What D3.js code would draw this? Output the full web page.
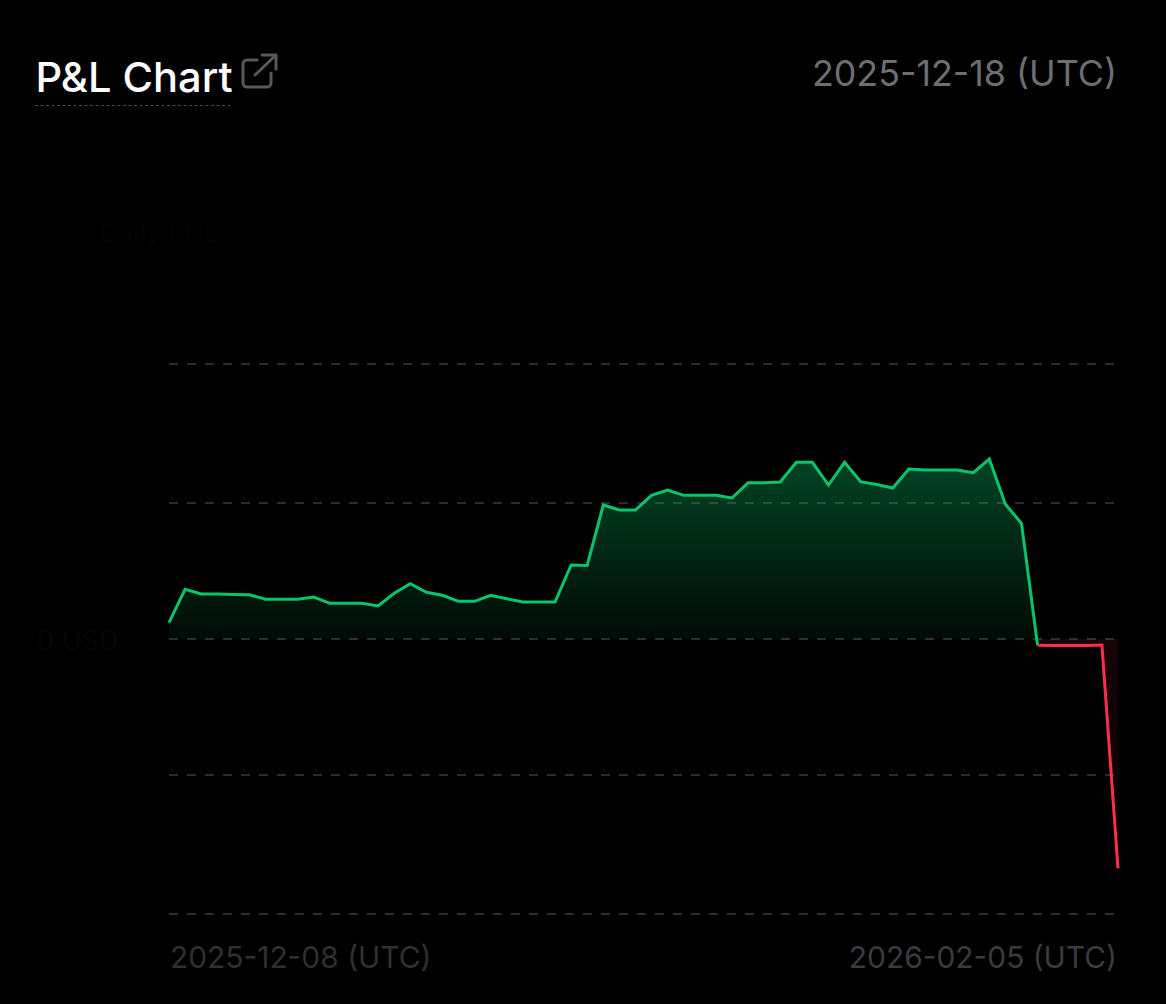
<!DOCTYPE html>
<html>
<head>
<meta charset="utf-8">
<script src="https://cdn.jsdelivr.net/npm/d3@7"></script>
<style>
  html, body { margin: 0; background: #000; }
  svg { display: block; font-family: Inter, sans-serif; }
</style>
</head>
<body>
<div id="graphe"></div>
<script>
const width = 1166;
const height = 1004;

const startDate = "2025-12-08";
const endDate = "2026-02-05";
const snapshotDate = "2025-12-18";

// daily pnl (the axis labels are faded out, so the unit is arbitrary)
const pnl = [
  16.3, 49.7, 45, 45, 44.5, 44.3, 39.7, 39.7, 39.7, 42,
  35.7, 35.7, 35.7, 33, 45.7, 55.3, 46.7, 43.7, 37.7, 37.7,
  43.7, 40.3, 37, 37, 37, 74, 73.5, 134, 129, 129,
  143.7, 149, 143.7, 143.7, 143.7, 141, 156.3, 156.3, 157, 176.7,
  176.7, 154, 176.7, 157.3, 154.5, 151, 170, 169, 169, 169,
  166.3, 180, 134.7, 115.7, -6.3, -6.5, -6.5, -6.5, -6, -229.3
];
const gridValues = [275, 136, 0, -136, -275];

const green = "#06c66c";
const red = "#fb2f4d";

const days = d3.utcDay.range(new Date(startDate), d3.utcDay.offset(new Date(endDate), 1));
const data = days.map((d, i) => ({date: d, value: pnl[i]}));

const x = d3.scaleUtc().domain([new Date(startDate), new Date(endDate)]).range([169, 1118]);
const y = d3.scaleLinear().domain([275, -275]).range([364, 914]);

const svg = d3.select("#graphe").append("svg")
  .attr("width", width)
  .attr("height", height);

const defs = svg.append("defs");

const gradGreen = defs.append("linearGradient")
  .attr("id", "fill-green")
  .attr("gradientUnits", "userSpaceOnUse")
  .attr("x1", 0).attr("x2", 0)
  .attr("y1", y(d3.max(pnl))).attr("y2", y(0));
gradGreen.append("stop").attr("offset", 0).attr("stop-color", green).attr("stop-opacity", 0.34);
gradGreen.append("stop").attr("offset", 1).attr("stop-color", green).attr("stop-opacity", 0.05);

const gradRed = defs.append("linearGradient")
  .attr("id", "fill-red")
  .attr("gradientUnits", "userSpaceOnUse")
  .attr("x1", 0).attr("x2", 0)
  .attr("y1", y(0)).attr("y2", y(d3.min(pnl)));
gradRed.append("stop").attr("offset", 0).attr("stop-color", red).attr("stop-opacity", 0.09);
gradRed.append("stop").attr("offset", 1).attr("stop-color", red).attr("stop-opacity", 0.03);

defs.append("clipPath").attr("id", "above")
  .append("rect").attr("x", 0).attr("y", 0).attr("width", width).attr("height", y(0));
defs.append("clipPath").attr("id", "below")
  .append("rect").attr("x", 0).attr("y", y(0)).attr("width", width).attr("height", height - y(0));

//////////////////
// Header
//////////////////

svg.append("text")
  .attr("x", 35.5).attr("y", 92)
  .attr("fill", "#fff")
  .attr("font-size", 41.6)
  .attr("font-weight", 500)
  .text("P&L Chart");

svg.append("line")
  .attr("x1", 35).attr("x2", 232)
  .attr("y1", 105.5).attr("y2", 105.5)
  .attr("stroke", "#4a4a4a")
  .attr("stroke-dasharray", "3 2.5");

// external link icon
svg.append("path")
  .attr("fill", "none")
  .attr("stroke", "#55585c")
  .attr("stroke-width", 3)
  .attr("stroke-linecap", "round")
  .attr("stroke-linejoin", "round")
  .attr("d", "M257,60 H247 a4,4 0 0 0 -4,4 V83 a4,4 0 0 0 4,4 H267 a4,4 0 0 0 4,-4 V73 M255,75 L276,55 M262,55 H276 V69");

svg.append("text")
  .attr("x", 1117).attr("y", 86)
  .attr("text-anchor", "end")
  .attr("fill", "#6c6e73")
  .attr("font-size", 35.8)
  .text(`${snapshotDate} (UTC)`);

// labels that have nearly faded into the background
svg.append("text")
  .attr("x", 100).attr("y", 242)
  .attr("fill", "#040404")
  .attr("font-size", 26)
  .text("Daily PNL");
svg.append("text")
  .attr("x", 37).attr("y", 650)
  .attr("fill", "#060606")
  .attr("font-size", 27)
  .text("0 USD");

//////////////////
// Grid
//////////////////

svg.append("g")
  .attr("transform", "translate(169,0)")
  .call(d3.axisLeft(y).offset(0).tickValues(gridValues).tickSize(-946).tickFormat(""))
  .call(g => g.select(".domain").remove())
  .call(g => g.selectAll("line")
    .attr("stroke", "#2a2c33")
    .attr("stroke-width", 2)
    .attr("stroke-dasharray", "9 9"));

//////////////////
// Area and line
//////////////////

const area = d3.area()
  .x(d => x(d.date))
  .y0(y(0))
  .y1(d => y(d.value));

svg.append("path").datum(data)
  .attr("clip-path", "url(#above)")
  .attr("fill", "url(#fill-green)")
  .attr("d", area);

svg.append("path").datum(data)
  .attr("clip-path", "url(#below)")
  .attr("fill", "url(#fill-red)")
  .attr("d", area);

const line = d3.line()
  .x(d => x(d.date))
  .y(d => y(d.value));

// the colour changes at the first point below zero
const firstNegative = pnl.findIndex(v => v < 0);

svg.append("path").datum(data.slice(0, firstNegative + 1))
  .attr("fill", "none")
  .attr("stroke", green)
  .attr("stroke-width", 3)
  .attr("d", line);

svg.append("path").datum(data.slice(firstNegative))
  .attr("fill", "none")
  .attr("stroke", red)
  .attr("stroke-width", 3)
  .attr("d", line);

//////////////////
// Date labels
//////////////////

svg.append("text")
  .attr("x", 170).attr("y", 968)
  .attr("fill", "#2f3032")
  .attr("font-size", 29.9)
  .text(`${startDate} (UTC)`);

svg.append("text")
  .attr("x", 1117).attr("y", 968)
  .attr("text-anchor", "end")
  .attr("fill", "#393b3f")
  .attr("font-size", 29.9)
  .text(`${endDate} (UTC)`);
</script>
</body>
</html>
